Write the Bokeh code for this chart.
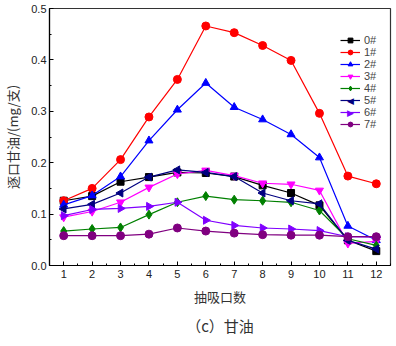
import math
from bokeh.plotting import figure
from bokeh.models import Range1d, FixedTicker, Title, Legend, LegendItem, Label, CustomJSTickFormatter
from bokeh.embed import file_html
from bokeh.resources import INLINE

puffs = [1, 2, 3, 4, 5, 6, 7, 8, 9, 10, 11, 12]
s0 = [0.126, 0.135, 0.163, 0.172, 0.181, 0.180, 0.173, 0.156, 0.141, 0.117, 0.049, 0.028]
s1 = [0.126, 0.150, 0.206, 0.289, 0.362, 0.466, 0.453, 0.428, 0.399, 0.296, 0.174, 0.159]
s2 = [0.118, 0.136, 0.173, 0.243, 0.303, 0.355, 0.308, 0.284, 0.255, 0.210, 0.077, 0.049]
s3 = [0.094, 0.105, 0.123, 0.152, 0.178, 0.185, 0.175, 0.160, 0.158, 0.146, 0.043, 0.047]
s4 = [0.067, 0.071, 0.074, 0.099, 0.123, 0.135, 0.128, 0.126, 0.123, 0.107, 0.052, 0.039]
s5 = [0.110, 0.119, 0.141, 0.172, 0.186, 0.181, 0.173, 0.141, 0.126, 0.120, 0.049, 0.032]
s6 = [0.097, 0.109, 0.111, 0.115, 0.123, 0.088, 0.078, 0.073, 0.071, 0.068, 0.056, 0.055]
s7 = [0.058, 0.058, 0.058, 0.061, 0.073, 0.067, 0.063, 0.060, 0.059, 0.059, 0.056, 0.056]
names = ["0#", "1#", "2#", "3#", "4#", "5#", "6#", "7#"]
series = [s0, s1, s2, s3, s4, s5, s6, s7]
colors = ["#000000", "#FF0000", "#0000FF", "#FF00FF", "#008000", "#000080", "#8000FF", "#800080"]
markers = ["square", "circle", "triangle", "inverted_triangle", "diamond", "triangle", "triangle", "circle"]
angles = [0, 0, 0, 0, 0, math.pi / 2, -math.pi / 2, 0]
sizes = [7, 8, 8, 8, 9, 8, 8, 8]

p = figure(width=396, height=346, output_backend="svg", toolbar_location=None,
           x_range=Range1d(0.5, 12.5), y_range=Range1d(0, 0.5),
           min_border_left=46, min_border_right=6, min_border_top=8, min_border_bottom=81)
p.xgrid.visible = False
p.ygrid.visible = False
p.outline_line_color = "#333333"
p.outline_line_width = 1.2
p.background_fill_color = "white"
p.border_fill_color = "white"

items = []
for i, (name, ys, c, m, a, s) in enumerate(zip(names, series, colors, markers, angles, sizes)):
    r1 = p.line(puffs, ys, line_color=c, line_width=1.2)
    r2 = p.scatter(puffs, ys, marker=m, angle=a, size=s, fill_color=c, line_color=c)
    if a == 0:
        items.append(LegendItem(label=name, renderers=[r1, r2]))
    else:
        items.append(LegendItem(label=name, renderers=[r1]))
        # rotated-triangle legend sample (Bokeh legends ignore marker angle)
        p.add_layout(Label(x=301, y=265 - 8 - (40 + 12 * i - 8) - 0, x_units="screen", y_units="screen",
                           text="◀" if a > 0 else "▶", text_color=c,
                           text_font="DejaVu Sans", text_font_size="9px",
                           text_align="center", text_baseline="middle"))

legend = Legend(items=items, location=(291, 135), padding=0, margin=0, spacing=0,
                border_line_color=None, background_fill_alpha=0,
                label_text_font="Liberation Sans", label_text_font_size="11px",
                label_height=12, glyph_height=12, glyph_width=20, label_standoff=4)
p.add_layout(legend)

for ax in (p.xaxis[0], p.yaxis[0]):
    ax.major_tick_in = 4
    ax.major_tick_out = 0
    ax.minor_tick_in = 2
    ax.minor_tick_out = 0
    ax.axis_line_color = "black"
    ax.axis_line_width = 1.2
    ax.major_label_text_font = "Liberation Sans"
    ax.major_label_text_font_size = "11px"
    ax.major_label_text_color = "#222222"
    ax.axis_label_text_font = "Noto Sans CJK SC"
    ax.axis_label_text_font_size = "13px"
    ax.axis_label_text_font_style = "normal"
    ax.axis_label_text_color = "#333333"

p.xaxis.ticker = FixedTicker(ticks=puffs, minor_ticks=[x + 0.5 for x in range(0, 13)])
p.yaxis.ticker = FixedTicker(ticks=[0, 0.1, 0.2, 0.3, 0.4, 0.5],
                             minor_ticks=[0.05, 0.15, 0.25, 0.35, 0.45])
p.yaxis.formatter = CustomJSTickFormatter(code="return tick.toFixed(1);")
p.xaxis.axis_label = "抽吸口数"
p.yaxis.axis_label = "逐口甘油/(mg/支)"
p.xaxis.axis_label_standoff = 6
p.yaxis.axis_label_standoff = 6
p.xaxis.major_label_standoff = 4
p.yaxis.major_label_standoff = 3

cap = Title(text="（c）甘油", align="center", text_font="Noto Sans CJK SC",
            text_font_size="15px", text_font_style="normal", text_color="#333333",
            standoff=8)
p.add_layout(cap, "below")

open("out.html", "w").write(file_html(p, INLINE))
